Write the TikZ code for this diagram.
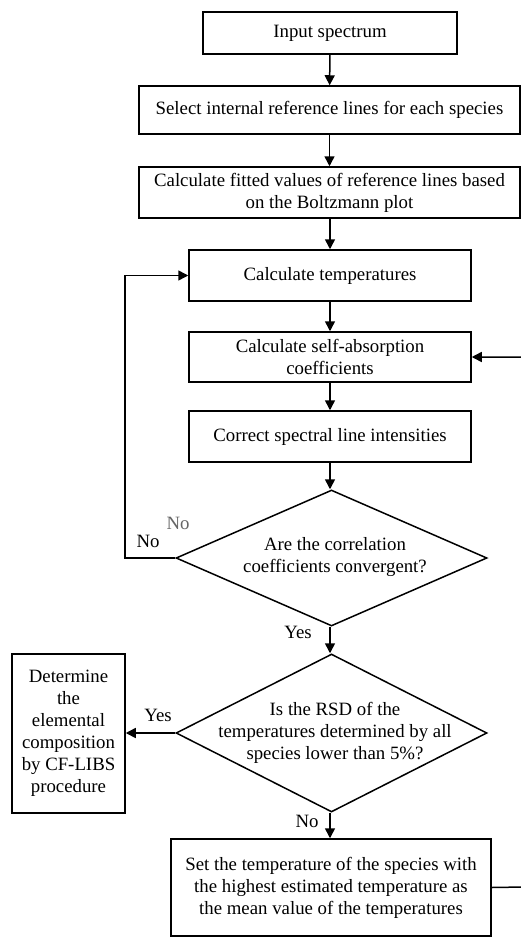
\documentclass[tikz,border=0pt]{standalone}
\usepackage{fontspec}
\setmainfont{Liberation Serif}
\usetikzlibrary{arrows.meta,shapes.geometric}
\begin{document}
\begin{tikzpicture}[x=1pt,y=-1pt,
  every node/.style={font=\fontsize{18.8}{22}\selectfont},
  box/.style={draw,line width=1.5pt,inner sep=0pt,align=center,minimum width=#1},
  dia/.style={draw,line width=1.5pt,diamond,inner sep=0pt},
  arr/.style={line width=1.5pt,-{Triangle[length=10pt,width=10pt]}},
  lbl/.style={inner sep=0pt}]
\clip (0,0) rectangle (521,939);
\fill[white] (0,0) rectangle (521,939);
\node[box=254,minimum height=42] (in) at (330,33) {Input spectrum};
\node[box=381,minimum height=48] (sel) at (329.5,110) {Select internal reference lines for each species};
\node[box=381,minimum height=51] (fit) at (329.5,192.5) {Calculate fitted values of reference lines based\\on the Boltzmann plot};
\node[box=282,minimum height=51] (temp) at (330,275.5) {Calculate temperatures};
\node[box=282,minimum height=50] (self) at (330,357) {Calculate self-absorption\\coefficients};
\node[box=282,minimum height=51] (corr) at (330,436.5) {Correct spectral line intensities};
\node[dia,minimum width=311,minimum height=136] (d1) at (331.5,558) {};
\node[lbl,align=center] (d1t) at (335,557) {Are the correlation\\coefficients convergent?};
\node[dia,minimum width=311,minimum height=158] (d2) at (331.5,733) {};
\node[lbl,align=center] (d2t) at (335,733) {Is the RSD of the\\temperatures determined by all\\species lower than 5\%?};
\node[box=113,minimum height=159] (det) at (68.5,733.5) {Determine\\the\\elemental\\composition\\by CF-LIBS\\procedure};
\node[box=320,minimum height=97] (set) at (331,887.5) {Set the temperature of the species with\\the highest estimated temperature as\\the mean value of the temperatures};
\node[lbl] (no1) at (148,541) {No};
\node[lbl,text=black!60] (no2) at (178,523) {No};
\node[lbl] (yes1) at (298,632) {Yes};
\node[lbl] (yes2) at (158,715) {Yes};
\node[lbl] (no3) at (307,821) {No};
\coordinate (loopA) at (125,558);
\coordinate (rA) at (524,887);
\coordinate (rB) at (524,357);
\draw[arr] (in) -- (sel);
\draw[arr] (sel) -- (fit);
\draw[arr] (fit.south -| temp) -- (temp);
\draw[arr] (temp) -- (self);
\draw[arr] (self) -- (corr);
\draw[arr] (corr) -- (corr.south |- d1.north);
\draw[arr] (d1.south -| corr) -- (corr.south |- d2.north);
\draw[arr] (d2.south -| corr) -- (corr.south |- set.north);
\draw[arr] (d2.west) -- (det.east |- d2.west);
\draw[arr] (d1.west) -- (loopA) |- (temp.west);
\draw[arr] (set.east) -- (rA) -- (rB) -- (self.east);
\end{tikzpicture}
\end{document}
